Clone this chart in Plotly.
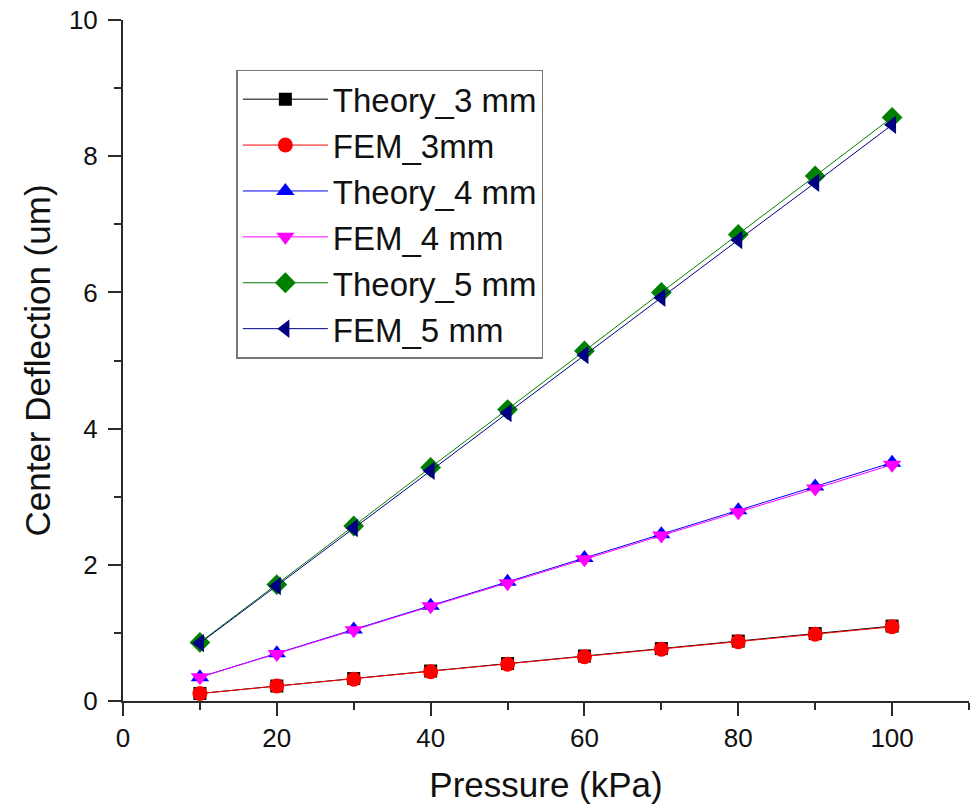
import plotly.graph_objects as go

pressure = [10, 20, 30, 40, 50, 60, 70, 80, 90, 100]
theory_3 = [0.11, 0.22, 0.33, 0.44, 0.55, 0.66, 0.77, 0.88, 0.99, 1.10]
fem_3 = [0.11, 0.22, 0.32, 0.43, 0.54, 0.65, 0.76, 0.87, 0.98, 1.09]
theory_4 = [0.35, 0.70, 1.05, 1.40, 1.75, 2.10, 2.45, 2.80, 3.15, 3.50]
fem_4 = [0.35, 0.69, 1.04, 1.39, 1.73, 2.08, 2.43, 2.77, 3.12, 3.47]
theory_5 = [0.86, 1.71, 2.57, 3.43, 4.28, 5.14, 6.00, 6.85, 7.71, 8.57]
fem_5 = [0.85, 1.69, 2.54, 3.38, 4.23, 5.08, 5.92, 6.77, 7.61, 8.46]

series = [
    ("Theory_3 mm", theory_3, "#000000", "square", 13),
    ("FEM_3mm", fem_3, "#FF0000", "circle", 15),
    ("Theory_4 mm", theory_4, "#0000FF", "triangle-up", 16),
    ("FEM_4 mm", fem_4, "#FF00FF", "triangle-down", 16),
    ("Theory_5 mm", theory_5, "#008000", "diamond", 16),
    ("FEM_5 mm", fem_5, "#000080", "triangle-left", 16),
]

fig = go.Figure()
for name, vals, color, sym, size in series:
    fig.add_trace(go.Scatter(
        x=pressure, y=vals, name=name, mode="lines+markers",
        line=dict(color=color, width=1),
        marker=dict(symbol=sym, size=size, color=color, line=dict(width=0)),
        cliponaxis=False,
    ))

font_family = "Liberation Sans, Arial, sans-serif"
axis_color = "#2a2a2a"
# The page body adds an 8 px offset; the figure is sized to fit inside it.
fig.update_layout(
    width=972, height=803,
    margin=dict(l=115, r=11, t=12, b=110),
    paper_bgcolor="white", plot_bgcolor="white",
    font=dict(family=font_family, color="#111111"),
    showlegend=True,
    legend=dict(
        x=0.134, y=0.927, xanchor="left", yanchor="top",
        bgcolor="white", bordercolor="#777777", borderwidth=1.5,
        font=dict(size=33, family=font_family, color="#111111"),
        itemwidth=85,
    ),
    xaxis=dict(
        range=[0, 110], tickvals=[0, 20, 40, 60, 80, 100],
        ticks="outside", ticklen=13, tickwidth=2, tickcolor=axis_color,
        minor=dict(tickvals=[10, 30, 50, 70, 90, 110], ticks="outside", ticklen=7, tickwidth=2, tickcolor=axis_color),
        showline=True, linecolor=axis_color, linewidth=2,
        showgrid=False, zeroline=False, automargin=False,
        ticklabelstandoff=0, ticklabeloverflow="allow",
        tickfont=dict(size=26, family=font_family, color="#111111"),
        title=dict(text="Pressure (kPa)", font=dict(size=35, family=font_family, color="#111111"), standoff=20),
    ),
    yaxis=dict(
        range=[0, 10], tickvals=[0, 2, 4, 6, 8, 10],
        ticks="outside", ticklen=13, tickwidth=2, tickcolor=axis_color,
        minor=dict(tickvals=[1, 3, 5, 7, 9], ticks="outside", ticklen=7, tickwidth=2, tickcolor=axis_color),
        showline=True, linecolor=axis_color, linewidth=2,
        showgrid=False, zeroline=False, automargin=False,
        ticklabelstandoff=5, ticklabeloverflow="allow",
        tickfont=dict(size=26, family=font_family, color="#111111"),
        title=dict(text="Center Deflection (um)", font=dict(size=35, family=font_family, color="#111111"), standoff=8),
    ),
)

fig.write_html("out.html")
